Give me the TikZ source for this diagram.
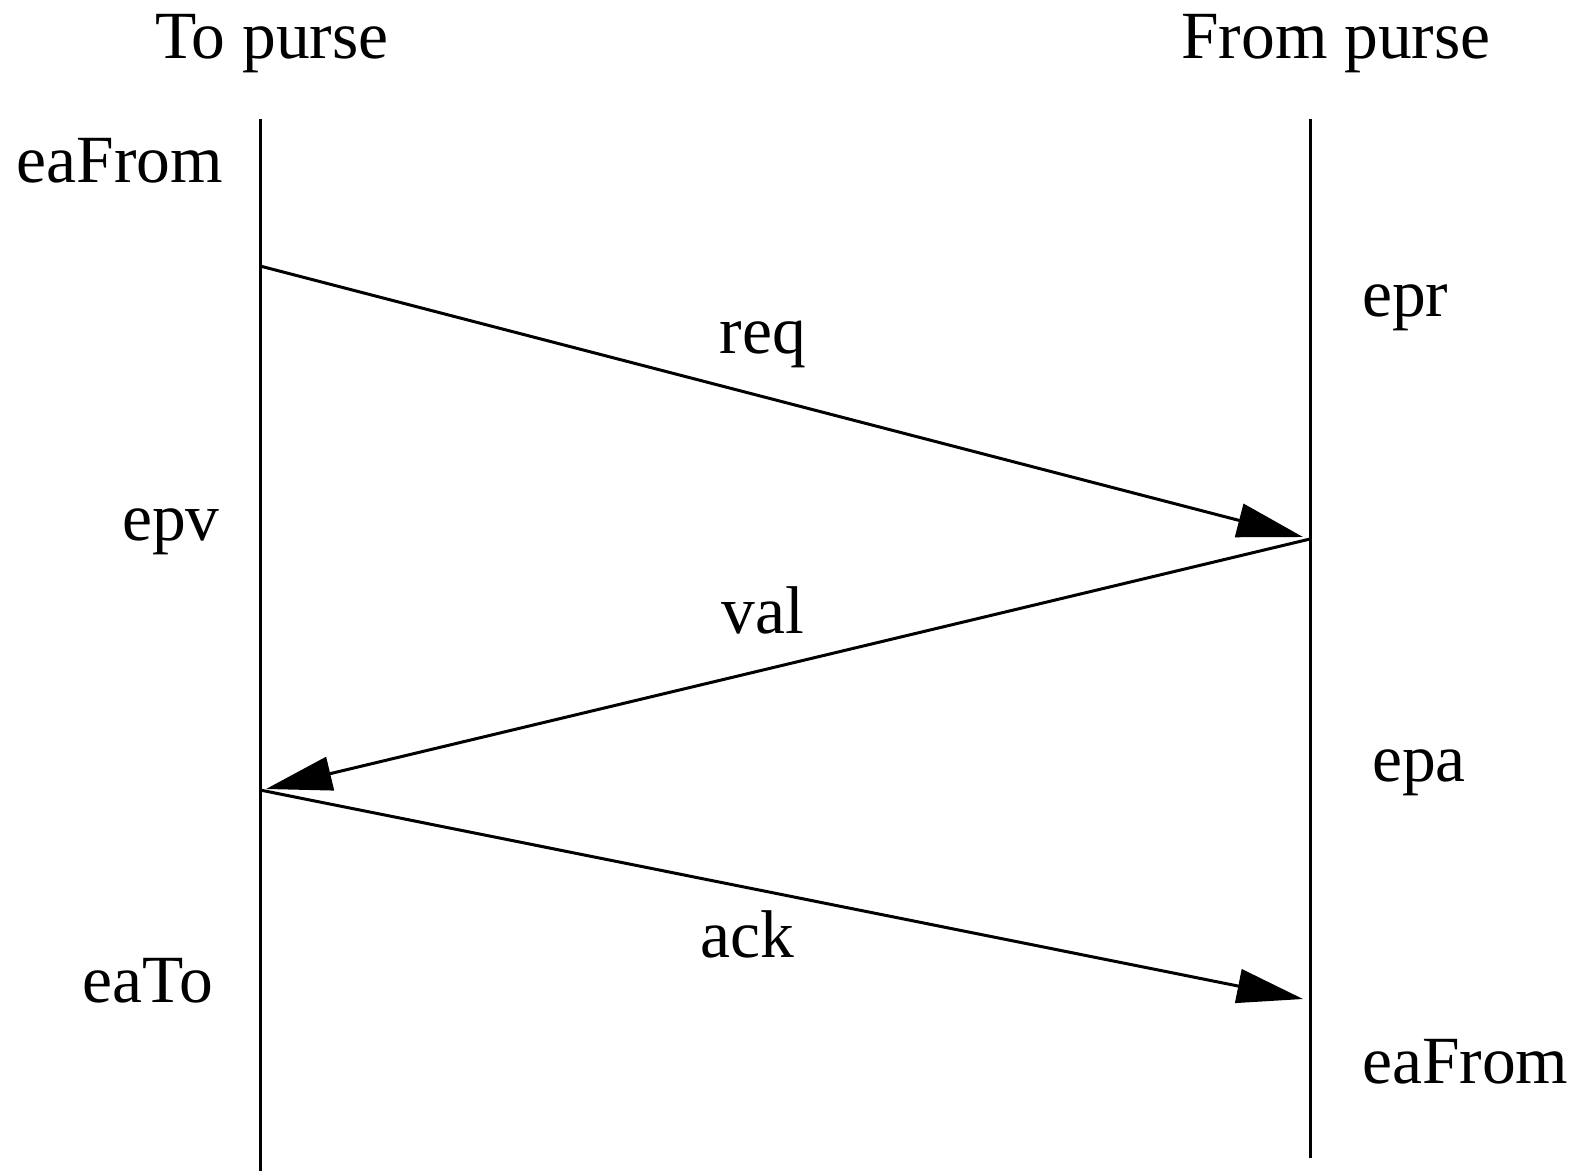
\documentclass[tikz,border=0pt]{standalone}
\usepackage{fontspec}
\setmainfont{Liberation Serif}
\usetikzlibrary{arrows.meta}
\begin{document}
\begin{tikzpicture}[x=1pt,y=-1pt,
  lbl/.style={inner sep=0pt,anchor=base,font=\fontsize{67.5}{80}\selectfont},
  lifeline/.style={line width=3pt},
  msg/.style={line width=3pt,-{Triangle[length=66pt,width=34pt]}}]
\useasboundingbox (0,0) rectangle (1579,1171);
% lifelines
\coordinate (Ltop) at (260,119);
\coordinate (Lbot) at (260,1171);
\coordinate (Rtop) at (1310,119);
\coordinate (Rbot) at (1310,1158);
\draw[lifeline] (Ltop) -- (Lbot);
\draw[lifeline] (Rtop) -- (Rbot);
% headers
\node[lbl] (to) at (272,58) {To purse};
\node[lbl] (from) at (1336,58) {From purse};
% states
\node[lbl] (eafL) at (120,182) {eaFrom};
\node[lbl] (epv) at (171,540) {epv};
\node[lbl] (eato) at (148,1002) {eaTo};
\node[lbl,anchor=base west] (epr) at (1362,316) {epr};
\node[lbl,anchor=base west] (epa) at (1372,781) {epa};
\node[lbl,anchor=base west] (eafR) at (1362,1083) {eaFrom};
% message end points
\coordinate (reqS) at (260,266);
\coordinate (reqE) at (1303,537);
\coordinate (valS) at (1310,539);
\coordinate (valE) at (266,789);
\coordinate (ackS) at (260,790);
\coordinate (ackE) at (1303,999);
\draw[msg] (reqS) -- (reqE);
\draw[msg] (valS) -- (valE);
\draw[msg] (ackS) -- (ackE);
% message labels
\node[lbl] (req) at (763,353) {req};
\node[lbl] (val) at (763,633) {val};
\node[lbl] (ack) at (747,957) {ack};
\end{tikzpicture}
\end{document}
